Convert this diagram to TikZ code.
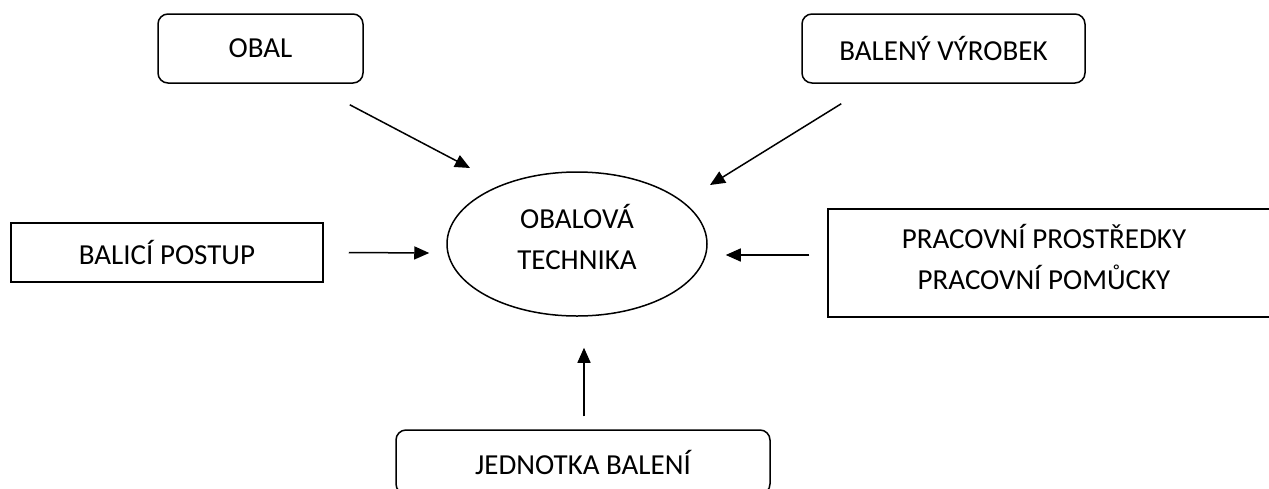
\documentclass[tikz,border=0pt]{standalone}
\usepackage{fontspec}
\setmainfont{Carlito}
\usetikzlibrary{arrows.meta,shapes.geometric}

\begin{document}
\begin{tikzpicture}[x=1pt,y=-1pt,
  every node/.style={font=\fontsize{29}{41}\selectfont},
  roundbox/.style={draw, line width=1.5pt, rounded corners=10pt, minimum height=69pt, align=center},
  sqbox/.style={draw, line width=1.5pt, align=center},
  feed/.style={-{Triangle[length=15pt,width=13pt]}, line width=1.5pt}]
\clip (0,0) rectangle (1269,488);
\node[roundbox, minimum width=205pt] (obal) at (260.5,48.5) {OBAL};
\node[roundbox, minimum width=283pt] (baleny) at (943.5,48.5) {BALENÝ VÝROBEK};
\node[sqbox, minimum width=312pt, minimum height=59pt] (postup) at (167,252.5) {BALICÍ POSTUP};
\node[sqbox, minimum width=446pt, minimum height=108pt,
  label={[align=center, xshift=-7pt, yshift=6pt]center:PRACOVNÍ PROSTŘEDKY\\PRACOVNÍ POMŮCKY}] (prostr) at (1051,263) {};
\node[roundbox, minimum width=374pt, minimum height=64pt] (jednotka) at (583,462) {JEDNOTKA BALENÍ};
\node[draw, ellipse, line width=1.5pt, minimum width=260pt, minimum height=144pt, inner sep=0pt,
  label={[align=center, yshift=7pt]center:OBALOVÁ\\TECHNIKA}] (technika) at (577,244) {};

\draw[feed] ([shift={(-14,21)}]obal.south east) -- ([shift={(-107,-76)}]technika.center);
\draw[feed] ([shift={(40,20)}]baleny.south west) -- ([shift={(133,-59)}]technika.center);
\draw[feed] ([shift={(25,0)}]postup.east) -- ([shift={(-17,9)}]technika.west);
\draw[feed] ([shift={(-18,-8)}]prostr.west) -- ([shift={(18,11)}]technika.east);
\draw[feed] ([shift={(1,-13)}]jednotka.north) -- ([shift={(7,31)}]technika.south);
\end{tikzpicture}
\end{document}
